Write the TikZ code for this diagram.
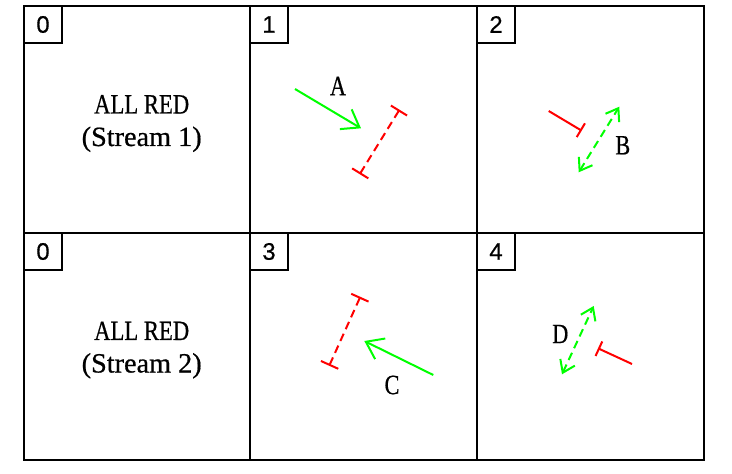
\documentclass[tikz,border=0pt]{standalone}
\usepackage{fontspec}
\setmainfont{Liberation Serif}[FakeBold=0.6]
\newfontfamily\digitfont{Liberation Sans}[FakeBold=0.5]
\usetikzlibrary{arrows.meta}
\definecolor{sigred}{RGB}{255,0,0}
\definecolor{siggreen}{RGB}{0,255,0}
\tikzset{
  gridline/.style={draw=black, line width=2bp},
  numbox/.style={draw=black, line width=1.6bp, minimum width=38bp, minimum height=37bp,
    anchor=north west, inner sep=0pt, outer sep=0pt, font=\digitfont\fontsize{24}{24}\selectfont},
  goarrow/.style={draw=siggreen, line width=2bp, -{Straight Barb[length=16bp,width=23bp]}},
  godash/.style={draw=siggreen, line width=2bp, dash pattern=on 8bp off 5bp,
    {Straight Barb[length=11.5bp,width=16bp]}-{Straight Barb[length=11.5bp,width=16bp]}},
  stopline/.style={draw=sigred, line width=2bp, -{Bar[width=16bp]}},
  stopdash/.style={draw=sigred, line width=2bp, dash pattern=on 8bp off 5bp,
    {Bar[width=19bp]}-{Bar[width=19bp]}},
  lbl/.style={inner sep=0pt, font=\fontsize{28}{28}\selectfont},
  body/.style={inner sep=0pt, anchor=base, font=\fontsize{28}{28}\selectfont},
}
\begin{document}
\begin{tikzpicture}[x=1bp, y=-1bp]
\useasboundingbox (0,0) rectangle (732,474);
% grid
\draw[gridline] (24,6) rectangle (704,460);
\draw[gridline] (250,6) -- (250,460);
\draw[gridline] (477,6) -- (477,460);
\draw[gridline] (24,233) -- (704,233);
% number boxes
\node[numbox] (n0a) at (24,6) {0};
\node[numbox] (n1) at (250,6) {1};
\node[numbox] (n2) at (477,6) {2};
\node[numbox] (n0b) at (24,233) {0};
\node[numbox] (n3) at (250,233) {3};
\node[numbox] (n4) at (477,233) {4};
% all red texts
\node[body] (t1a) at (141.7,113.5) {\resizebox{95bp}{\height}{ALL RED}};
\node[body] (t1b) at (141.7,146) {\resizebox{120bp}{\height}{(Stream 1)}};
\node[body] (t2a) at (141.7,340) {\resizebox{95bp}{\height}{ALL RED}};
\node[body] (t2b) at (141.7,372.5) {\resizebox{120bp}{\height}{(Stream 2)}};
% panel 1
\coordinate (a1) at (295,89);
\coordinate (a2) at (361,128.3);
\coordinate (r1a) at (399.5,109.7);
\coordinate (r1b) at (359.7,174.2);
\draw[goarrow] (a1) -- (a2);
\draw[stopdash] (r1a) -- (r1b);
\node[lbl] (la) at (338,86) {\scalebox{0.8}[1]{A}};
% panel 2
\coordinate (r2a) at (548.7,111);
\coordinate (r2b) at (581.7,130.7);
\coordinate (b1) at (578.7,172.3);
\coordinate (b2) at (619.3,106.7);
\draw[stopline] (r2a) -- (r2b);
\draw[godash] (b1) -- (b2);
\node[lbl] (lb) at (622.8,145.3) {\scalebox{0.8}[1]{B}};
% panel 3
\coordinate (r3a) at (360.3,296.8);
\coordinate (r3b) at (329.2,365.8);
\coordinate (c1) at (433.3,375);
\coordinate (c2) at (364.3,341);
\draw[stopdash] (r3a) -- (r3b);
\draw[goarrow] (c1) -- (c2);
\node[lbl] (lc) at (392,385) {\scalebox{0.8}[1]{C}};
% panel 4
\coordinate (d1) at (562,374.3);
\coordinate (d2) at (593.7,306);
\coordinate (r4a) at (632,364);
\coordinate (r4b) at (598,348.3);
\draw[godash] (d1) -- (d2);
\draw[stopline] (r4a) -- (r4b);
\node[lbl] (ld) at (560.3,334) {\scalebox{0.8}[1]{D}};
\end{tikzpicture}
\end{document}
